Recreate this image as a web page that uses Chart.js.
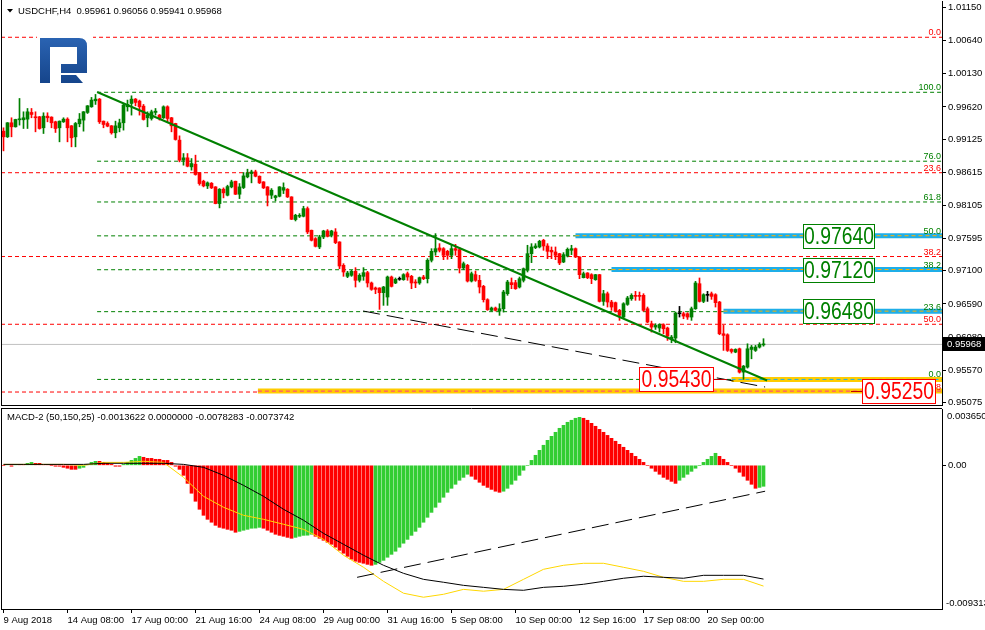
<!DOCTYPE html>
<html>
<head>
<meta charset="utf-8">
<script src="https://cdn.jsdelivr.net/npm/chart.js@4.4.1/dist/chart.umd.min.js"></script>
<style>
  html, body { margin: 0; padding: 0; background: #fff; }
  #wrap { position: relative; width: 985px; height: 630px; overflow: hidden; background: #fff; }
  #priceChart { position: absolute; left: 0; top: 0; }
  #macdChart { position: absolute; left: 0; top: 407px; }
</style>
</head>
<body>
<div id="wrap">
  <canvas id="priceChart" width="985" height="407"></canvas>
  <canvas id="macdChart" width="985" height="223"></canvas>
</div>
<script>
// USDCHF H4 candles, 9 Aug 16:00 .. 21 Sep 2018
const opens = [
  0.99248,0.99161,0.99377,0.99315,0.99423,0.99423,0.99433,0.99536,0.99469,0.99469,
  0.99300,0.99479,0.99464,0.99392,0.99300,0.99392,0.99433,0.99330,0.99161,0.99361,
  0.99418,0.99536,0.99623,0.99715,0.99741,0.99402,0.99366,0.99330,0.99223,0.99300,
  0.99377,0.99623,0.99674,0.99741,0.99710,0.99633,0.99454,0.99443,0.99536,0.99495,
  0.99454,0.99623,0.99454,0.99366,0.99110,0.98802,0.98838,0.98699,0.98740,0.98612,
  0.98478,0.98406,0.98447,0.98391,0.98134,0.98355,0.98263,0.98391,0.98478,0.98278,
  0.98381,0.98545,0.98596,0.98622,0.98555,0.98468,0.98391,0.98263,0.98227,0.98247,
  0.98340,0.98355,0.98237,0.97888,0.97939,0.97939,0.98057,0.97724,0.97595,0.97467,
  0.97621,0.97713,0.97647,0.97698,0.97544,0.97185,0.97015,0.97031,0.97092,0.96954,
  0.97015,0.97072,0.96913,0.96836,0.96836,0.96764,0.96697,0.97005,0.96913,0.96969,
  0.96964,0.97056,0.97015,0.96928,0.96913,0.97005,0.96979,0.97262,0.97390,0.97452,
  0.97441,0.97400,0.97339,0.97441,0.97426,0.97144,0.97185,0.96943,0.97041,0.96954,
  0.96861,0.96656,0.96492,0.96528,0.96481,0.96517,0.96748,0.96918,0.96918,0.96851,
  0.96954,0.97108,0.97364,0.97457,0.97467,0.97570,0.97482,0.97416,0.97390,0.97364,
  0.97236,0.97328,0.97416,0.97441,0.97313,0.96995,0.97067,0.97041,0.96964,0.97041,
  0.96630,0.96748,0.96620,0.96610,0.96492,0.96389,0.96584,0.96671,0.96723,0.96723,
  0.96723,0.96517,0.96286,0.96235,0.96220,0.96271,0.96220,0.96055,0.96066,0.96440,
  0.96440,0.96440,0.96389,0.96517,0.96902,0.96630,0.96723,0.96748,0.96733,0.96620,
  0.96132,0.96117,0.95891,0.95850,0.95901,0.95542,0.95619,0.95891,0.95876,0.95927,
  0.95961
];
const highs = [
  0.99300,0.99380,0.99454,0.99432,0.99751,0.99546,0.99597,0.99597,0.99546,0.99475,
  0.99531,0.99531,0.99470,0.99402,0.99406,0.99454,0.99454,0.99335,0.99382,0.99520,
  0.99550,0.99642,0.99767,0.99813,0.99751,0.99405,0.99392,0.99335,0.99402,0.99433,
  0.99674,0.99726,0.99792,0.99751,0.99726,0.99659,0.99546,0.99572,0.99597,0.99505,
  0.99638,0.99638,0.99460,0.99370,0.99176,0.98904,0.98904,0.98827,0.98879,0.98615,
  0.98494,0.98468,0.98458,0.98395,0.98365,0.98376,0.98417,0.98494,0.98480,0.98442,
  0.98612,0.98663,0.98648,0.98648,0.98560,0.98472,0.98395,0.98365,0.98263,0.98395,
  0.98453,0.98365,0.98240,0.97970,0.97980,0.98093,0.98083,0.97727,0.97611,0.97647,
  0.97724,0.97734,0.97724,0.97749,0.97548,0.97210,0.97092,0.97108,0.97149,0.97056,
  0.97149,0.97092,0.96928,0.96851,0.96840,0.96861,0.97020,0.97020,0.96990,0.97005,
  0.97056,0.97082,0.97031,0.96964,0.97005,0.97031,0.97287,0.97441,0.97672,0.97518,
  0.97457,0.97416,0.97493,0.97508,0.97457,0.97236,0.97200,0.97082,0.97097,0.97031,
  0.96877,0.96671,0.96543,0.96543,0.96594,0.96800,0.96954,0.96990,0.96954,0.97005,
  0.97144,0.97493,0.97518,0.97518,0.97570,0.97585,0.97518,0.97467,0.97467,0.97370,
  0.97380,0.97452,0.97493,0.97452,0.97318,0.97082,0.97072,0.97056,0.97045,0.97045,
  0.96800,0.96774,0.96646,0.96620,0.96507,0.96610,0.96707,0.96748,0.96784,0.96774,
  0.96748,0.96543,0.96327,0.96286,0.96286,0.96286,0.96235,0.96107,0.96466,0.96553,
  0.96466,0.96456,0.96543,0.96938,0.96990,0.96748,0.96784,0.96774,0.96748,0.96630,
  0.96261,0.96132,0.95901,0.95901,0.95912,0.95645,0.95978,0.95953,0.95953,0.95994,
  0.96056
];
const lows = [
  0.98945,0.99150,0.99161,0.99310,0.99341,0.99289,0.99289,0.99454,0.99238,0.99279,
  0.99212,0.99392,0.99300,0.99228,0.99084,0.99382,0.99084,0.99007,0.99007,0.99315,
  0.99248,0.99520,0.99615,0.99659,0.99366,0.99300,0.99315,0.99202,0.99146,0.99238,
  0.99264,0.99556,0.99495,0.99638,0.99495,0.99418,0.99315,0.99418,0.99495,0.99418,
  0.99443,0.99392,0.99238,0.99110,0.98776,0.98725,0.98699,0.98648,0.98571,0.98417,
  0.98391,0.98365,0.98365,0.98130,0.98068,0.98222,0.98252,0.98376,0.98273,0.98211,
  0.98365,0.98530,0.98453,0.98545,0.98442,0.98365,0.98098,0.98211,0.98175,0.98237,
  0.98288,0.98227,0.97888,0.97867,0.97919,0.97929,0.97672,0.97559,0.97467,0.97441,
  0.97595,0.97621,0.97621,0.97518,0.97133,0.97015,0.96995,0.97015,0.96851,0.96928,
  0.96954,0.96851,0.96800,0.96748,0.96507,0.96569,0.96569,0.96851,0.96902,0.96954,
  0.96954,0.96954,0.96825,0.96841,0.96892,0.96964,0.96913,0.97236,0.97339,0.97390,
  0.97272,0.97277,0.97287,0.97339,0.97067,0.97118,0.96928,0.96928,0.96938,0.96759,
  0.96620,0.96492,0.96481,0.96481,0.96415,0.96466,0.96723,0.96825,0.96815,0.96836,
  0.96928,0.97082,0.97226,0.97441,0.97452,0.97416,0.97287,0.97287,0.97272,0.97195,
  0.97226,0.97313,0.97349,0.97303,0.96979,0.96990,0.96979,0.96902,0.96954,0.96620,
  0.96569,0.96543,0.96492,0.96466,0.96338,0.96374,0.96569,0.96646,0.96646,0.96646,
  0.96476,0.96302,0.96158,0.96199,0.96158,0.96132,0.96030,0.95994,0.95994,0.96389,
  0.96363,0.96353,0.96338,0.96507,0.96620,0.96610,0.96630,0.96661,0.96543,0.96117,
  0.95876,0.95860,0.95835,0.95840,0.95527,0.95430,0.95604,0.95747,0.95860,0.95912,
  0.95941
];
const closes = [
  0.99161,0.99377,0.99315,0.99428,0.99438,0.99454,0.99546,0.99505,0.99454,0.99289,
  0.99479,0.99454,0.99377,0.99289,0.99402,0.99433,0.99300,0.99146,0.99366,0.99433,
  0.99546,0.99638,0.99726,0.99741,0.99392,0.99351,0.99325,0.99223,0.99330,0.99377,
  0.99649,0.99659,0.99741,0.99690,0.99623,0.99428,0.99495,0.99546,0.99556,0.99443,
  0.99623,0.99443,0.99330,0.99120,0.98802,0.98838,0.98709,0.98750,0.98581,0.98442,
  0.98406,0.98453,0.98376,0.98134,0.98355,0.98299,0.98396,0.98468,0.98278,0.98391,
  0.98560,0.98607,0.98622,0.98555,0.98453,0.98376,0.98263,0.98340,0.98252,0.98391,
  0.98381,0.98237,0.97893,0.97955,0.97955,0.98057,0.97698,0.97570,0.97477,0.97621,
  0.97713,0.97631,0.97713,0.97534,0.97174,0.97082,0.97067,0.97092,0.96954,0.97031,
  0.97072,0.96913,0.96815,0.96815,0.96764,0.96851,0.97005,0.96861,0.96969,0.96969,
  0.97041,0.97005,0.96913,0.96913,0.96995,0.96979,0.97262,0.97400,0.97441,0.97416,
  0.97339,0.97339,0.97441,0.97416,0.97144,0.97210,0.96943,0.97056,0.96954,0.96851,
  0.96656,0.96502,0.96528,0.96492,0.96517,0.96774,0.96928,0.96887,0.96825,0.96979,
  0.97133,0.97364,0.97467,0.97482,0.97554,0.97482,0.97400,0.97390,0.97339,0.97221,
  0.97349,0.97431,0.97441,0.97313,0.97041,0.97056,0.96995,0.96979,0.97041,0.96630,
  0.96748,0.96620,0.96543,0.96476,0.96415,0.96594,0.96682,0.96723,0.96707,0.96707,
  0.96492,0.96312,0.96235,0.96261,0.96276,0.96209,0.96096,0.96081,0.96451,0.96440,
  0.96404,0.96389,0.96517,0.96913,0.96630,0.96733,0.96723,0.96707,0.96610,0.96132,
  0.96107,0.95876,0.95860,0.95891,0.95542,0.95634,0.95901,0.95927,0.95927,0.95968,
  0.95968
];

// MACD-2 (50,150,25): histogram per candle, and the two lines read every 5 candles
const macdHist = [
  0,0.00006,-0.00006,0.00006,0.00006,
  0.00006,0.00013,0.00019,0.00013,0.00013,0.00006,0.00006,0,-0.00006,-0.00006,
  -0.00013,-0.00019,-0.00026,-0.00026,-0.00019,-0.00013,0.00006,
  0.00019,0.00026,0.00026,0.00019,0.00013,
  0.00006,-0.00006,-0.00006,0.00006,
  0.00019,0.00032,0.00045,0.00058,0.00052,0.00045,0.00045,0.00039,0.00039,0.00032,0.00032,0.00019,
  -0.00006,-0.00026,-0.00065,-0.00117,-0.00181,-0.00233,-0.00285,-0.00324,-0.00350,-0.00369,-0.00389,-0.00402,-0.00408,-0.00415,-0.00421,-0.00434,
  -0.00428,-0.00421,-0.00415,-0.00408,-0.00407,-0.00402,
  -0.00408,-0.00421,-0.00434,-0.00447,-0.00454,-0.00460,-0.00467,-0.00473,
  -0.00467,-0.00460,-0.00454,-0.00453,-0.00447,
  -0.00460,-0.00473,-0.00486,-0.00499,-0.00512,-0.00531,-0.00551,
  -0.00570,-0.00590,-0.00609,-0.00622,-0.00629,-0.00635,-0.00642,-0.00648,
  -0.00642,-0.00629,-0.00616,-0.00596,-0.00577,-0.00557,-0.00531,-0.00505,-0.00480,-0.00454,-0.00428,-0.00402,
  -0.00369,-0.00337,-0.00305,-0.00272,-0.00240,-0.00207,-0.00175,-0.00149,-0.00123,-0.00097,-0.00078,-0.00058,
  -0.00071,-0.00091,-0.00110,-0.00130,-0.00143,-0.00156,-0.00168,-0.00175,
  -0.00168,-0.00149,-0.00123,-0.00097,-0.00065,-0.00032,0,0.00032,0.00065,0.00097,
  0.00130,0.00162,0.00188,0.00214,0.00240,0.00259,0.00279,0.00292,0.00305,0.00311,
  0.00305,0.00292,0.00272,0.00253,0.00233,0.00214,0.00194,0.00175,0.00156,0.00136,0.00117,0.00097,0.00078,0.00058,0.00039,0.00019,
  0,-0.00019,-0.00039,-0.00058,-0.00078,-0.00091,-0.00104,-0.00117,
  -0.00097,-0.00078,-0.00058,-0.00039,-0.00019,0,0.00019,0.00039,0.00058,0.00078,
  0.00058,0.00039,0.00019,0,-0.00019,-0.00045,-0.00071,-0.00097,-0.00123,-0.00149,
  -0.00143,-0.00136
];
const macdLineIdx = [0,5,10,15,20,25,30,35,40,45,50,55,60,65,70,75,80,85,90,95,100,105,110,115,120,125,130,135,140,145,150,155,160,165,170,175,180,185,190];
const macdBlack = [
  0.00006,0.00006,0.00006,0.00006,0.00006,0.00013,0.00013,0.00013,0.00013,0.00006,
  -0.00013,-0.00065,-0.00130,-0.00201,-0.00285,-0.00356,-0.00441,-0.00512,-0.00583,-0.00648,
  -0.00700,-0.00739,-0.00758,-0.00778,-0.00791,-0.00804,-0.00810,-0.00791,-0.00784,-0.00771,
  -0.00752,-0.00732,-0.00719,-0.00726,-0.00732,-0.00713,-0.00713,-0.00713,-0.0073742
];
const macdYellow = [
  0.00006,0.00006,0.00006,0.00006,0,0.00019,0.00019,0.00026,0.00019,-0.00078,
  -0.00201,-0.00272,-0.00324,-0.00350,-0.00382,-0.00415,-0.00480,-0.00583,-0.00661,-0.00752,
  -0.00829,-0.00855,-0.00836,-0.00804,-0.00816,-0.00804,-0.00739,-0.00674,-0.00648,-0.00635,
  -0.00635,-0.00661,-0.00687,-0.00726,-0.00752,-0.00752,-0.00739,-0.00739,-0.0078283
];
const macdTrend = [{x: 88.4, y: -0.00726}, {x: 190.4, y: -0.00168}];

// axes
const timeLabels = ['9 Aug 2018','14 Aug 08:00','17 Aug 00:00','21 Aug 16:00','24 Aug 08:00','29 Aug 00:00',
                    '31 Aug 16:00','5 Sep 08:00','10 Sep 00:00','12 Sep 16:00','17 Sep 08:00','20 Sep 00:00'];
const timeLabelStep = 16;
const priceTicks = [1.01150,1.00640,1.00130,0.99620,0.99125,0.98615,0.98105,0.97595,0.97100,0.96590,0.96080,0.95570,0.95075];
const macdTickLabels = ['0.003650', '0.00', '-0.009313'];
const X_MIN = -0.625, X_MAX = 234.625;
const P_MIN = 0.950364, P_MAX = 1.0125;
const MACD_MIN = -0.009313, MACD_MAX = 0.00365;

// drawn objects
const greenFibPrices = [0.99846, 0.98786, 0.98159, 0.97638, 0.97117, 0.96472, 0.95430];
const greenFibLabels = ['100.0', '76.0', '61.8', '50.0', '38.2', '23.6', '0.0'];
const greenFibStart = 23.4;
const redFibPrices = [1.00692, 0.98609, 0.97320, 0.96278, 0.95236];
const redFibLabels = ['0.0', '23.6', '38.2', '50.0', '61.8'];
const blueBandPrices = [0.97640, 0.97120, 0.96480];
const blueBandStart = [143, 152, 180];
const yellowBandPrices = [0.95430, 0.95250];
const yellowBandStart = [182, 63.6];
const boxPrices = [0.97640, 0.97120, 0.96480, 0.95430, 0.95250];
const boxTexts = ['0.97640', '0.97120', '0.96480', '0.95430', '0.95250'];
const trendGreen = [{x: 23.4, y: 0.99850}, {x: 190.9, y: 0.95413}];
const trendBlack = [{x: 89.9, y: 0.96482}, {x: 190.4, y: 0.95313}];
const lastPrice = closes[closes.length - 1];

const GREEN = '#008000', RED = '#ff0000';
const FONT = '"Liberation Sans", Arial, sans-serif';

const candleColors = closes.map((c, i) => c > opens[i] ? GREEN : (c < opens[i] ? RED : '#000000'));
const wickData = closes.map((c, i) => ({x: i, y: [lows[i], highs[i]]}));
const bodyData = closes.map((c, i) => ({x: i, y: [Math.min(opens[i], c), Math.max(opens[i], c)]}));

function hLine(y, x0, color, width, dash, order) {
    return {
        type: 'line', data: [{x: x0, y: y}, {x: X_MAX, y: y}],
        borderColor: color, borderWidth: width, borderDash: dash || [],
        pointRadius: 0, fill: false, order: order
    };
}
function segLine(points, color, width, dash, order) {
    return {
        type: 'line', data: points, borderColor: color, borderWidth: width,
        borderDash: dash || [], pointRadius: 0, fill: false, order: order
    };
}
// keep the plot box exactly where the panel edges are
function fixAxis(width) {
    return s => { s.width = width; s.paddingTop = 0; s.paddingBottom = 0; };
}

const priceDatasets = [];
priceDatasets.push(segLine(trendGreen, GREEN, 2, null, 1));
priceDatasets.push(segLine(trendBlack, '#000', 1, [17, 7], 2));
priceDatasets.push({
    type: 'bar', data: bodyData, backgroundColor: candleColors, barThickness: 3,
    grouped: false, minBarLength: 1, order: 3
});
priceDatasets.push({
    type: 'bar', data: wickData, backgroundColor: candleColors, barThickness: 1,
    grouped: false, minBarLength: 1, order: 4
});
blueBandPrices.forEach((p, k) => {
    priceDatasets.push(hLine(p, blueBandStart[k], '#ffb000', 1, [4, 3], 5));
    priceDatasets.push(hLine(p, blueBandStart[k], '#1eaee8', 5, null, 6));
});
priceDatasets.push(hLine(yellowBandPrices[0], yellowBandStart[0], '#1eaee8', 1, [4, 3], 5));
priceDatasets.push(hLine(yellowBandPrices[1], yellowBandStart[1], '#ff3399', 1, [4, 3], 5));
yellowBandPrices.forEach((p, k) => priceDatasets.push(hLine(p, yellowBandStart[k], '#ffcc00', 5, null, 6)));
greenFibPrices.forEach(p => priceDatasets.push(hLine(p, greenFibStart, GREEN, 1, [4, 3], 7)));
redFibPrices.forEach(p => priceDatasets.push(hLine(p, X_MIN, RED, 1, [4, 3], 7)));
priceDatasets.push(hLine(lastPrice, X_MIN, '#c0c0c0', 1, null, 8));

const framePlugin = {
    id: 'frame',
    afterDraw(chart, args, opts) {
        const {ctx, chartArea: a} = chart;
        ctx.save();
        ctx.strokeStyle = '#000';
        ctx.lineWidth = 1;
        ctx.beginPath();
        ctx.moveTo(a.left + 0.5, opts.top ? a.top - 1 : 0);
        ctx.lineTo(a.left + 0.5, a.bottom + 1);
        if (opts.top) { ctx.moveTo(a.left, a.top - 0.5); ctx.lineTo(a.right, a.top - 0.5); }
        if (opts.bottom) { ctx.moveTo(a.left, a.bottom + 0.5); ctx.lineTo(a.right + 1, a.bottom + 0.5); }
        ctx.stroke();
        ctx.restore();
    }
};

function drawLogo(ctx) {
    ctx.save();
    ctx.fillStyle = '#fff';
    ctx.fillRect(37, 31, 56, 57);
    const g = ctx.createLinearGradient(0, 38, 0, 84);
    g.addColorStop(0, '#2a63b2');
    g.addColorStop(1, '#15448a');
    ctx.fillStyle = g;
    ctx.beginPath();
    ctx.moveTo(40, 38); ctx.lineTo(79, 38);
    ctx.quadraticCurveTo(87, 38, 87, 46);
    ctx.lineTo(87, 73); ctx.lineTo(61, 73); ctx.lineTo(61, 64);
    ctx.lineTo(77, 64); ctx.lineTo(77, 47); ctx.lineTo(50, 47);
    ctx.lineTo(50, 83); ctx.lineTo(40, 83);
    ctx.closePath();
    ctx.fill();
    ctx.beginPath();
    ctx.moveTo(61, 75); ctx.lineTo(76, 75); ctx.lineTo(83, 83); ctx.lineTo(61, 83);
    ctx.closePath();
    ctx.fill();
    ctx.restore();
}

const priceOverlay = {
    id: 'priceOverlay',
    afterDatasetsDraw(chart) {
        const {ctx} = chart;
        const y = chart.scales.y;
        ctx.save();
        // fibo level captions
        ctx.font = '9px ' + FONT;
        ctx.textAlign = 'right';
        ctx.textBaseline = 'alphabetic';
        greenFibPrices.forEach((p, k) => {
            ctx.fillStyle = GREEN;
            ctx.fillText(greenFibLabels[k], 941, y.getPixelForValue(p) - 2);
        });
        redFibPrices.forEach((p, k) => {
            ctx.fillStyle = RED;
            ctx.fillText(redFibLabels[k], 941, y.getPixelForValue(p) - 2);
        });
        drawLogo(ctx);
        // price boxes
        const boxLeft = [803, 803, 803, 639, 862];
        const boxWidth = [72, 72, 72, 75, 74];
        const boxColor = [GREEN, GREEN, GREEN, RED, RED];
        // little anchor ticks of the two red labels
        ctx.strokeStyle = '#c00000';
        ctx.lineWidth = 1;
        ctx.beginPath();
        const y3 = Math.round(y.getPixelForValue(boxPrices[3])) + 0.5;
        ctx.moveTo(714, y3); ctx.lineTo(727, y3);
        const y4 = Math.round(y.getPixelForValue(boxPrices[4])) + 0.5;
        ctx.moveTo(851, y4); ctx.lineTo(862, y4);
        ctx.stroke();
        boxPrices.forEach((p, k) => {
            const cy = Math.round(y.getPixelForValue(p)) + 1;
            const top = cy - 13;
            ctx.fillStyle = '#fff';
            ctx.fillRect(boxLeft[k], top, boxWidth[k], 25);
            ctx.strokeStyle = boxColor[k];
            ctx.strokeRect(boxLeft[k] + 0.5, top + 0.5, boxWidth[k] - 1, 24);
            ctx.save();
            ctx.translate(boxLeft[k] + boxWidth[k] / 2, cy + 1);
            ctx.scale(0.84, 1);
            ctx.font = '23px ' + FONT;
            ctx.textAlign = 'center';
            ctx.textBaseline = 'middle';
            ctx.fillStyle = boxColor[k];
            ctx.fillText(boxTexts[k], 0, 0);
            ctx.restore();
        });
        ctx.restore();
    },
    afterDraw(chart) {
        const {ctx} = chart;
        const y = chart.scales.y;
        ctx.save();
        // symbol header
        ctx.fillStyle = '#000';
        ctx.beginPath();
        ctx.moveTo(7, 9); ctx.lineTo(13, 9); ctx.lineTo(10, 12.5); ctx.closePath();
        ctx.fill();
        ctx.font = '9.5px ' + FONT;
        ctx.textAlign = 'left';
        ctx.textBaseline = 'middle';
        ctx.fillText('USDCHF,H4  ' + [opens, highs, lows, closes].map(a => a[a.length - 1].toFixed(5)).join(' '), 18, 11);
        // last price marker on the axis
        const py = Math.round(y.getPixelForValue(lastPrice));
        ctx.fillStyle = '#000';
        ctx.fillRect(943, py - 7, 42, 14);
        ctx.fillStyle = '#fff';
        ctx.fillText(lastPrice.toFixed(5), 947, py + 0.5);
        ctx.restore();
    }
};

new Chart(document.getElementById('priceChart'), {
    type: 'bar',
    data: {datasets: priceDatasets},
    options: {
        responsive: false, animation: false, events: [], devicePixelRatio: 1,
        layout: {padding: {left: 1, top: 1, right: 0, bottom: 2}},
        plugins: {legend: {display: false}, tooltip: {enabled: false}, frame: {bottom: true}},
        scales: {
            x: {type: 'linear', min: X_MIN, max: X_MAX, offset: false, display: false, grid: {offset: false}},
            y: {
                position: 'right', min: P_MIN, max: P_MAX, beginAtZero: false,
                afterFit: fixAxis(43),
                afterBuildTicks: s => { s.ticks = priceTicks.map(v => ({value: v})); },
                ticks: {callback: v => v.toFixed(5), color: '#000', padding: 2, autoSkip: false,
                        font: {family: FONT, size: 9.5}},
                grid: {drawOnChartArea: false, tickLength: 4, color: '#000'},
                border: {color: '#000'}
            }
        }
    },
    plugins: [framePlugin, priceOverlay]
});

// MACD panel
const histColors = macdHist.map((v, i) => (i > 0 && v > macdHist[i - 1]) ? '#32cd32' : RED);

const macdOverlay = {
    id: 'macdOverlay',
    afterDraw(chart) {
        const {ctx} = chart;
        const y = chart.scales.y;
        ctx.save();
        ctx.fillStyle = '#000';
        ctx.font = '9.5px ' + FONT;
        ctx.textAlign = 'left';
        ctx.textBaseline = 'middle';
        ctx.fillText('MACD-2 (50,150,25) -0.0013622 0.0000000 -0.0078283 -0.0073742', 7, 10);
        ctx.fillText(macdTickLabels[0], 947, y.getPixelForValue(MACD_MAX) + 7);
        ctx.fillText(macdTickLabels[2], 946, y.getPixelForValue(MACD_MIN) - 6);
        ctx.restore();
    }
};

new Chart(document.getElementById('macdChart'), {
    type: 'bar',
    data: {
        datasets: [
            segLine(macdTrend, '#000', 1, [17, 7], 1),
            segLine(macdLineIdx.map((x, k) => ({x: x, y: macdBlack[k]})), '#000', 1, null, 2),
            segLine(macdLineIdx.map((x, k) => ({x: x, y: macdYellow[k]})), '#ffd700', 1, null, 3),
            {type: 'bar', data: macdHist.map((v, i) => ({x: i, y: v})), backgroundColor: histColors,
             barThickness: 3, grouped: false, order: 4}
        ]
    },
    options: {
        responsive: false, animation: false, events: [], devicePixelRatio: 1,
        layout: {padding: {left: 1, top: 2, right: 0, bottom: 0}},
        plugins: {legend: {display: false}, tooltip: {enabled: false}, frame: {top: true}},
        scales: {
            x: {
                type: 'linear', min: X_MIN, max: X_MAX, offset: false,
                afterFit: s => { s.height = 21; s.paddingLeft = 0; s.paddingRight = 0; },
                afterBuildTicks: s => { s.ticks = timeLabels.map((t, k) => ({value: k * timeLabelStep})); },
                ticks: {callback: v => timeLabels[Math.round(v / timeLabelStep)], align: 'start',
                        maxRotation: 0, autoSkip: false, padding: 2, color: '#000',
                        font: {family: FONT, size: 9.5}},
                grid: {drawOnChartArea: false, tickLength: 4, color: '#000', offset: false},
                border: {color: '#000'}
            },
            y: {
                position: 'right', min: MACD_MIN, max: MACD_MAX, beginAtZero: false,
                afterFit: fixAxis(43),
                afterBuildTicks: s => { s.ticks = [{value: 0}]; },
                ticks: {callback: () => macdTickLabels[1], color: '#000', padding: 2,
                        font: {family: FONT, size: 9.5}},
                grid: {drawOnChartArea: false, tickLength: 4, color: '#000'},
                border: {color: '#000'}
            }
        }
    },
    plugins: [framePlugin, macdOverlay]
});
</script>
</body>
</html>
